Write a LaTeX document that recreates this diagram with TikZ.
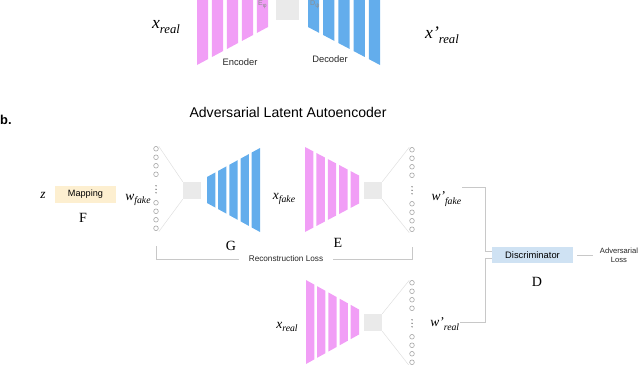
\documentclass[tikz,border=0pt]{standalone}
\usepackage{fontspec}
\setmainfont{Liberation Serif}
\newfontfamily\sansf{Liberation Sans}
\usepackage{graphicx}
\usepackage{xcolor}
\usepackage{tikz}
\usetikzlibrary{positioning,calc}
\definecolor{encpink}{RGB}{241,158,246}
\definecolor{decblue}{RGB}{99,173,236}
\definecolor{latgray}{RGB}{234,234,234}
\definecolor{mapyellow}{RGB}{253,239,208}
\definecolor{discblue}{RGB}{207,226,243}
\definecolor{unitgray}{RGB}{165,165,165}
\definecolor{linkgray}{RGB}{200,200,200}

\newcommand{\sublab}[2]{\textit{#1}\raisebox{-0.6ex}{\scalebox{0.72}{\textit{#2}}}}

\newcommand{\funnel}[6]{%
  \foreach \k in {0,...,4}{
    \pgfmathsetmacro{\fp}{((#2)-(#1))*1.055/5}
    \pgfmathsetmacro{\fxa}{#1+\k*\fp}
    \pgfmathsetmacro{\fxb}{\fxa+\fp-0.055*((#2)-(#1))}
    \pgfmathsetmacro{\fha}{#4+((#5)-(#4))*(\fxa-(#1))/((#2)-(#1))}
    \pgfmathsetmacro{\fhb}{#4+((#5)-(#4))*(\fxb-(#1))/((#2)-(#1))}
    \fill[#6] (\fxa,{#3-\fha}) -- (\fxb,{#3-\fhb}) -- (\fxb,{#3+\fhb}) -- (\fxa,{#3+\fha}) -- cycle;
  }}

\newcommand{\units}[1]{%
  \foreach \k in {0,...,3}{
    \draw[unit] ($(#1.north)+(0,2.5+8.5*\k)$) circle (0.07cm);
    \draw[unit] ($(#1.north)+(0,56.5+8.5*\k)$) circle (0.07cm);}
  \foreach \k in {-1,0,1}
    \fill[black!70] ($(#1.north)+(0,43+3.5*\k)$) circle (0.022cm);}

\begin{document}
\begin{tikzpicture}[x=0.03cm, y=-0.03cm,
        lbl/.style={font=\fontsize{11.5}{12}\selectfont, inner sep=0.5pt},
        biglbl/.style={font=\fontsize{15}{16}\selectfont, inner sep=0.5pt},
        letter/.style={font=\fontsize{12}{13}\selectfont, inner sep=0pt},
        caption/.style={font=\sansf\fontsize{8}{9}\selectfont, text=black!85},
        latent/.style={rectangle, fill=latgray, minimum width=0.54cm, minimum height=0.51cm, inner sep=0pt},
        colbox/.style={rectangle, minimum width=0.15cm, minimum height=2.55cm, inner sep=0pt},
        unit/.style={draw=unitgray, line width=0.5pt},
        link/.style={draw=linkgray, line width=0.6pt},
        fan/.style={draw=linkgray!60, line width=0.4pt}
    ]
        \useasboundingbox (0,0) rectangle (640,365);
        \clip (0,0) rectangle (640,365);

        \funnel{197}{268}{8}{57}{19}{encpink}
        \node[latent, minimum size=0.69cm] (za) at (287.5,8) {};
        \funnel{308}{380}{8}{19}{57}{decblue}
        \node[font=\sansf\fontsize{6}{6}\selectfont, text=black!45, anchor=base west, inner sep=0pt] (ephi) at (258,6) {E\textsubscript{φ}};
        \node[font=\sansf\fontsize{6}{6}\selectfont, text=black!45, anchor=base west, inner sep=0pt] (dpsi) at (310,6) {D\textsubscript{ψ}};
        \node[caption] (enc) at (240,62) {Encoder};
        \node[caption] (dec) at (330,59) {Decoder};
        \node[biglbl] (xa) at (166,27) {\sublab{x}{real}};
        \node[biglbl] (xra) at (442,35) {\sublab{x'}{real}};

        \node[font=\sansf\bfseries\fontsize{11}{12}\selectfont, anchor=west, inner sep=0pt] (plb) at (0,120) {b.};
        \node[font=\sansf\fontsize{12}{13}\selectfont] (title) at (288,112) {Adversarial Latent Autoencoder};

        \node[lbl] (z) at (43,195) {\textit{z}};
        \node[rectangle, fill=mapyellow, minimum width=1.83cm, minimum height=0.45cm,
              font=\sansf\fontsize{7.8}{8}\selectfont] (map) at (85.5,194.5) {Mapping};
        \node[letter] (F) at (83,218) {F};
        \node[lbl] (wfk) at (138,200) {\sublab{w}{fake}};
        \node[colbox] (col1) at (156,189) {};
        \units{col1}
        \node[latent] (g1) at (192,190.5) {};
        \draw[fan] (col1.north east) -- (g1.north west);
        \draw[fan] (col1.south east) -- (g1.south west);
        \funnel{207}{260}{190}{13}{42}{decblue}
        \node[letter] (G) at (231,246) {G};
        \node[lbl] (xfk) at (284,199) {\sublab{x}{fake}};
        \funnel{305}{359}{189.5}{42.5}{14}{encpink}
        \node[letter] (E) at (338,243) {E};
        \node[latent] (g2) at (373,190.5) {};
        \node[colbox] (col2) at (412,190) {};
        \units{col2}
        \draw[fan] (g2.north east) -- (col2.north west);
        \draw[fan] (g2.south east) -- (col2.south west);
        \node[lbl, anchor=east] (wfk2) at (462,199) {\sublab{w'}{fake}};

        \funnel{306}{359}{322}{42}{12.5}{encpink}
        \node[lbl] (xrl) at (287,327) {\sublab{x}{real}};
        \node[latent] (g3) at (373,322.5) {};
        \node[colbox] (col3) at (412,323) {};
        \units{col3}
        \draw[fan] (g3.north east) -- (col3.north west);
        \draw[fan] (g3.south east) -- (col3.south west);
        \node[lbl, anchor=east] (wrl) at (460,324) {\sublab{w'}{real}};

        \node[font=\sansf\fontsize{7}{8}\selectfont, text=black!85, inner xsep=0.3cm] (rec) at (286,259) {Reconstruction Loss};
        \draw[link] ([yshift=-0.43cm]col1.south) |- (rec.west);
        \draw[link] ([yshift=-0.43cm]col2.south) |- (rec.east);

        \node[rectangle, fill=discblue, minimum width=2.43cm, minimum height=0.48cm,
              font=\sansf\fontsize{8}{9}\selectfont] (disc) at (532.5,255) {Discriminator};
        \node[letter] (D) at (537,282) {D};
        \node[font=\sansf\fontsize{6.5}{8}\selectfont, text=black!85, align=center, inner sep=0pt] (adv) at (619,255) {Adversarial\\Loss};
        \coordinate (jf) at (485,187);
        \coordinate (jr) at (485,322);
        \draw[link] (wfk2.east |- jf) -- (jf) |- ($(disc.west)+(0,-4)$);
        \draw[link] (wrl.east |- jr) -- (jr) |- ($(disc.west)+(0,3)$);
        \draw[link, shorten <=0.12cm, shorten >=0.2cm] (disc) -- (adv);
    \end{tikzpicture}
\end{document}
